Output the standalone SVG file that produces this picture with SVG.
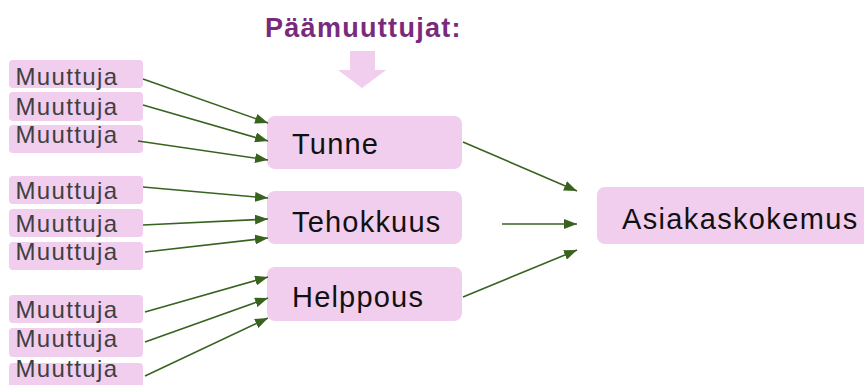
<svg xmlns="http://www.w3.org/2000/svg" width="864" height="385" viewBox="0 0 864 385">
<defs>
<style>
.box{fill:#F1CDEE;}
.var{font-family:"Liberation Sans",Arial,sans-serif;font-size:24px;letter-spacing:1.35px;fill:#404040;}
.main{font-family:"Liberation Sans",Arial,sans-serif;font-size:29px;letter-spacing:1.2px;fill:#111;}
.title{font-family:"Liberation Sans",Arial,sans-serif;font-size:27px;font-weight:bold;letter-spacing:1.3px;fill:#7A2A7C;}
.conn line{stroke:#38631F;stroke-width:1.6;marker-end:url(#ah);}
</style>
<marker id="ah" markerUnits="userSpaceOnUse" markerWidth="14" markerHeight="10" refX="13" refY="5" orient="auto">
<path d="M0,0 L13,5 L0,10 Z" fill="#38631F"/>
</marker>
</defs>
<rect width="864" height="385" fill="#fff"/>
<g id="title">
<text class="title" x="265" y="37">Päämuuttujat:</text>
<polygon points="350,51 375,51 375,70 386,70 362,88 338,70 350,70" fill="#F1CDEE"/>
</g>
<g id="v1"><rect class="box" x="9" y="60" width="134" height="28" rx="4"/><text class="var" x="15.5" y="85">Muuttuja</text></g>
<g id="v2"><rect class="box" x="9" y="92" width="134" height="29" rx="4"/><text class="var" x="15.5" y="115">Muuttuja</text></g>
<g id="v3"><rect class="box" x="9" y="125" width="134" height="28" rx="4"/><text class="var" x="15.5" y="143">Muuttuja</text></g>
<g id="v4"><rect class="box" x="9" y="176" width="134" height="28" rx="4"/><text class="var" x="15.5" y="199">Muuttuja</text></g>
<g id="v5"><rect class="box" x="9" y="209" width="134" height="28" rx="4"/><text class="var" x="15.5" y="232">Muuttuja</text></g>
<g id="v6"><rect class="box" x="9" y="242" width="134" height="28" rx="4"/><text class="var" x="15.5" y="260">Muuttuja</text></g>
<g id="v7"><rect class="box" x="9" y="295" width="134" height="28" rx="4"/><text class="var" x="15.5" y="318">Muuttuja</text></g>
<g id="v8"><rect class="box" x="9" y="328" width="134" height="29" rx="4"/><text class="var" x="15.5" y="347">Muuttuja</text></g>
<g id="v9"><rect class="box" x="9" y="363" width="134" height="28" rx="4"/><text class="var" x="15.5" y="377">Muuttuja</text></g>
<g id="tunne"><rect class="box" x="267" y="116" width="195" height="53" rx="8"/><text class="main" x="292" y="154">Tunne</text></g>
<g id="tehokkuus"><rect class="box" x="267" y="191" width="195" height="53" rx="8"/><text class="main" x="292" y="232">Tehokkuus</text></g>
<g id="helppous"><rect class="box" x="267" y="267" width="195" height="54" rx="8"/><text class="main" x="292" y="307">Helppous</text></g>
<g id="asiakaskokemus"><rect class="box" x="597" y="187" width="280" height="57" rx="8"/><text class="main" x="622" y="229" style="letter-spacing:1.35px">Asiakaskokemus</text></g>
<g id="connectors" class="conn">
<line x1="143" y1="79" x2="268" y2="123"/>
<line x1="143" y1="105" x2="268" y2="141"/>
<line x1="138" y1="141" x2="268" y2="160"/>
<line x1="143" y1="187" x2="268" y2="198"/>
<line x1="143" y1="225" x2="268" y2="219"/>
<line x1="145" y1="252" x2="268" y2="238"/>
<line x1="145" y1="312" x2="268" y2="277"/>
<line x1="145" y1="342" x2="268" y2="298"/>
<line x1="145" y1="376" x2="268" y2="318"/>
<line x1="463" y1="142" x2="577" y2="191"/>
<line x1="502" y1="224" x2="577" y2="224"/>
<line x1="463" y1="297" x2="577" y2="250"/>
</g>
</svg>
